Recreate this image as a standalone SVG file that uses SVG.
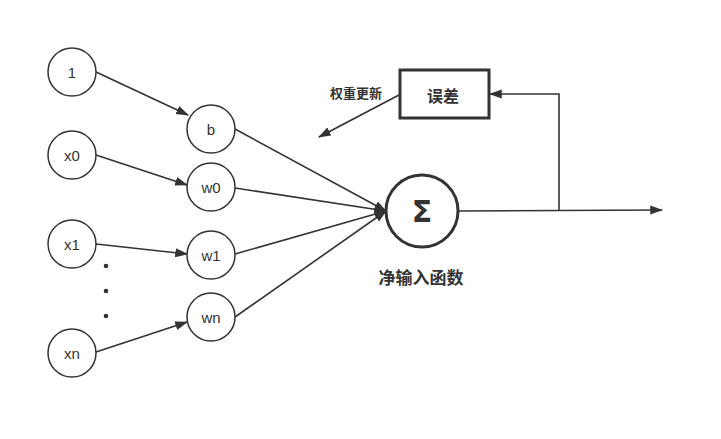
<svg xmlns="http://www.w3.org/2000/svg" width="721" height="439" viewBox="0 0 721 439">
<style>
.n{fill:#fff;stroke:#333;stroke-width:1.5}
.t{font-family:"Liberation Sans","Noto Sans",sans-serif;font-size:15px;fill:#333;text-anchor:middle;dominant-baseline:central}
.c{font-family:"Noto Sans CJK SC",sans-serif;font-weight:bold;fill:#333;text-anchor:middle;dominant-baseline:central}
.e{fill:none;stroke:#333;stroke-width:1.6}
</style>
<defs>
<marker id="a" viewBox="0 0 12 10" refX="11" refY="5" markerWidth="8" markerHeight="6.7" markerUnits="strokeWidth" orient="auto"><path d="M0,0.8 L12,5 L0,9.2 Z" fill="#333"/></marker>
</defs>
<g id="connectors">
<line class="e" x1="96" y1="72" x2="188" y2="115" marker-end="url(#a)"/>
<line class="e" x1="96" y1="155" x2="187" y2="185" marker-end="url(#a)"/>
<line class="e" x1="96" y1="244" x2="187" y2="254" marker-end="url(#a)"/>
<line class="e" x1="96" y1="352" x2="187" y2="322" marker-end="url(#a)"/>
<line class="e" x1="235" y1="129" x2="386" y2="211" marker-end="url(#a)"/>
<line class="e" x1="235" y1="188" x2="386" y2="211" marker-end="url(#a)"/>
<line class="e" x1="235" y1="254" x2="386" y2="211" marker-end="url(#a)"/>
<line class="e" x1="235" y1="317" x2="386" y2="211" marker-end="url(#a)"/>
<line class="e" x1="458" y1="211" x2="662" y2="210" marker-end="url(#a)"/>
<polyline class="e" points="559,210 559,94 490,94" marker-end="url(#a)"/>
<line class="e" x1="399" y1="95" x2="319" y2="137" marker-end="url(#a)"/>
</g>
<g id="n1"><circle class="n" cx="72" cy="72" r="24"/><text class="t" x="72" y="72">1</text></g>
<g id="nx0"><circle class="n" cx="72" cy="155" r="24"/><text class="t" x="72" y="155">x0</text></g>
<g id="nx1"><circle class="n" cx="72" cy="244" r="24"/><text class="t" x="72" y="244">x1</text></g>
<g id="nxn"><circle class="n" cx="72" cy="353" r="24"/><text class="t" x="72" y="353">xn</text></g>
<g id="dots" fill="#333"><circle cx="106" cy="266" r="2.3"/><circle cx="106" cy="291" r="2.3"/><circle cx="106" cy="316" r="2.3"/></g>
<g id="nb"><circle class="n" cx="211" cy="129" r="24"/><text class="t" x="211" y="129">b</text></g>
<g id="nw0"><circle class="n" cx="211" cy="187" r="24"/><text class="t" x="211" y="187">w0</text></g>
<g id="nw1"><circle class="n" cx="211" cy="255" r="24"/><text class="t" x="211" y="255">w1</text></g>
<g id="nwn"><circle class="n" cx="211" cy="317" r="24"/><text class="t" x="211" y="317">wn</text></g>
<g id="sum"><circle cx="422" cy="211" r="36" fill="#fff" stroke="#333" stroke-width="3"/><text x="422" y="211" font-family="'DejaVu Sans',sans-serif" font-weight="bold" font-size="30" fill="#333" text-anchor="middle" dominant-baseline="central">Σ</text>
<text class="c" x="421" y="276" font-size="17">净输入函数</text></g>
<g id="err"><rect x="400" y="70" width="89" height="48" fill="#fff" stroke="#333" stroke-width="3"/><text class="c" x="443" y="95" font-size="16">误差</text></g>
<g id="lbl"><text class="c" x="356" y="92" font-size="13">权重更新</text></g>
</svg>
